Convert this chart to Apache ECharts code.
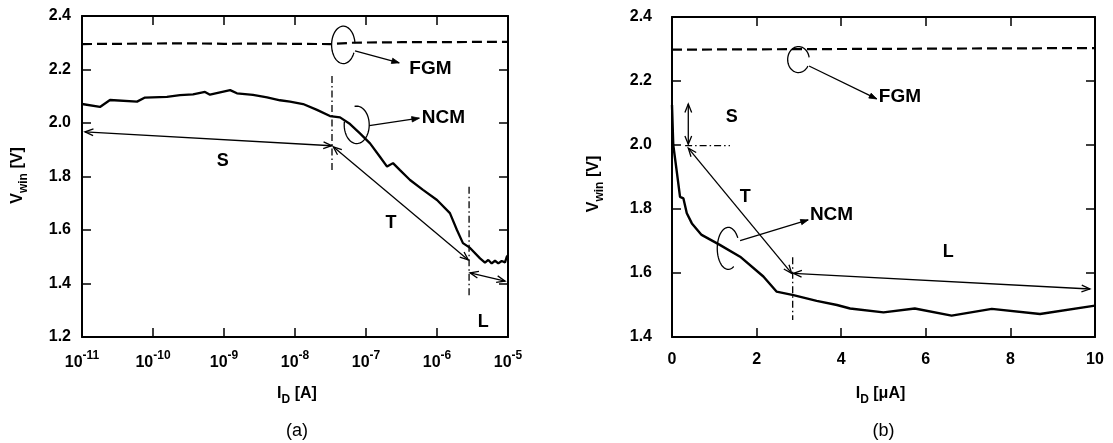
<!DOCTYPE html>
<html>
<head>
<meta charset="utf-8">
<script src="https://cdn.jsdelivr.net/npm/echarts@6/dist/echarts.min.js"></script>
<style>
  html, body { margin: 0; padding: 0; background: #fff; }
  #chart { width: 1113px; height: 443px; }
</style>
</head>
<body>
<div id="chart"></div>
<script>
// ---- (a) window voltage vs. drain current, logarithmic sweep ----
const ncmLogCurrent = [1e-11, 1.79e-11, 2.48e-11, 5.96e-11, 7.71e-11, 1.57e-10, 2.40e-10, 3.66e-10,
  5.40e-10, 6.35e-10, 1.22e-9, 1.52e-9, 2.56e-9, 4.04e-9, 6.15e-9, 8.51e-9, 1.30e-8, 2.04e-8,
  3.11e-8, 4.31e-8, 5.96e-8, 8.22e-8, 1.14e-7, 1.57e-7, 1.98e-7, 2.40e-7, 3.01e-7, 4.17e-7,
  6.35e-7, 1.0e-6, 1.52e-6, 1.91e-6, 2.32e-6, 2.92e-6, 4.04e-6, 4.74e-6, 5.28e-6, 5.89e-6,
  6.56e-6, 7.31e-6, 8.15e-6, 9.08e-6, 9.6e-6, 1e-5];
const ncmLogVwin = [2.071, 2.060, 2.086, 2.080, 2.095, 2.098, 2.104, 2.107,
  2.116, 2.106, 2.123, 2.111, 2.105, 2.096, 2.085, 2.080, 2.071, 2.049,
  2.026, 2.021, 1.996, 1.961, 1.924, 1.874, 1.837, 1.850, 1.824, 1.787,
  1.750, 1.712, 1.663, 1.600, 1.551, 1.533, 1.494, 1.478, 1.488, 1.475,
  1.485, 1.475, 1.484, 1.479, 1.500, 1.505];
const fgmLogCurrent = [1e-11, 3.16e-11, 1e-10, 3.16e-10, 1e-9, 3.16e-9, 1e-8, 3.16e-8,
  6.3e-8, 1e-7, 3.16e-7, 1e-6, 3.16e-6, 1e-5];
const fgmLogVwin = [2.295, 2.296, 2.297, 2.298, 2.296, 2.297, 2.296, 2.295,
  2.300, 2.301, 2.302, 2.302, 2.303, 2.303];

// ---- (b) window voltage vs. drain current, linear sweep [uA] ----
const ncmLinCurrent = [0.0, 0.02, 0.03, 0.11, 0.19, 0.27, 0.35, 0.47, 0.70, 1.13, 1.61, 2.16,
  2.47, 2.87, 3.42, 3.90, 4.21, 5.00, 5.74, 6.61, 7.56, 8.70, 10.0];
const ncmLinVwin = [2.125, 2.040, 2.000, 1.920, 1.838, 1.833, 1.787, 1.755, 1.719, 1.688, 1.651, 1.589,
  1.542, 1.531, 1.513, 1.500, 1.489, 1.477, 1.489, 1.467, 1.488, 1.472, 1.498];
const fgmLinCurrent = [0, 2, 4, 6, 8, 10];
const fgmLinVwin = [2.298, 2.299, 2.300, 2.301, 2.302, 2.303];

// panel captions
const panelCaptions = ['(a)', '(b)'];

const FONT = '"Liberation Sans", Arial, Helvetica, sans-serif';
const INK = '#000';
const BOLD = 'bold';

const GRID_A = { left: 82, top: 16, width: 426, height: 321 };
const GRID_B = { left: 672, top: 17, width: 423, height: 320 };

const zip = (xs, ys) => xs.map((x, i) => [x, ys[i]]);

function frameAxis(extra) {
  return Object.assign({
    axisLine: { show: true, onZero: false, lineStyle: { color: INK, width: 2 } },
    axisTick: { show: true, inside: true, length: 9, lineStyle: { color: INK, width: 1.5 } },
    splitLine: { show: false },
    minorTick: { show: false }
  }, extra);
}

const tickText = { color: INK, fontFamily: FONT, fontSize: 16, fontWeight: BOLD };

const option = {
  animation: false,
  backgroundColor: '#fff',
  grid: [
    Object.assign({ containLabel: false }, GRID_A),
    Object.assign({ containLabel: false }, GRID_B)
  ],
  xAxis: [
    frameAxis({
      gridIndex: 0, type: 'log', logBase: 10, min: 1e-11, max: 1e-5, splitNumber: 6, position: 'bottom',
      axisLabel: {
        margin: 13,
        formatter: v => '{b|10}{s|' + Math.round(Math.log10(v)) + '}',
        rich: {
          b: { color: INK, fontFamily: FONT, fontSize: 16, fontWeight: BOLD, lineHeight: 26 },
          s: { color: INK, fontFamily: FONT, fontSize: 12, fontWeight: BOLD, lineHeight: 13, verticalAlign: 'top' }
        }
      }
    }),
    frameAxis({
      gridIndex: 0, type: 'log', logBase: 10, min: 1e-11, max: 1e-5, splitNumber: 6, position: 'top',
      axisLabel: { show: false }
    }),
    frameAxis({
      gridIndex: 1, type: 'value', min: 0, max: 10, interval: 2, position: 'bottom',
      axisLabel: Object.assign({ margin: 15 }, tickText)
    }),
    frameAxis({
      gridIndex: 1, type: 'value', min: 0, max: 10, interval: 2, position: 'top',
      axisLabel: { show: false }
    })
  ],
  yAxis: [
    frameAxis({
      gridIndex: 0, type: 'value', min: 1.2, max: 2.4, interval: 0.2, position: 'left',
      axisLabel: Object.assign({ margin: 11, formatter: v => v.toFixed(1) }, tickText)
    }),
    frameAxis({
      gridIndex: 0, type: 'value', min: 1.2, max: 2.4, interval: 0.2, position: 'right',
      axisLabel: { show: false }
    }),
    frameAxis({
      gridIndex: 1, type: 'value', min: 1.4, max: 2.4, interval: 0.2, position: 'left',
      axisLabel: Object.assign({ margin: 20, formatter: v => v.toFixed(1) }, tickText)
    }),
    frameAxis({
      gridIndex: 1, type: 'value', min: 1.4, max: 2.4, interval: 0.2, position: 'right',
      axisLabel: { show: false }
    })
  ],
  series: [
    { name: 'NCM', type: 'line', xAxisIndex: 0, yAxisIndex: 0, data: zip(ncmLogCurrent, ncmLogVwin),
      symbol: 'none', silent: true, lineStyle: { color: INK, width: 2.3 } },
    { name: 'FGM', type: 'line', xAxisIndex: 0, yAxisIndex: 0, data: zip(fgmLogCurrent, fgmLogVwin),
      symbol: 'none', silent: true, lineStyle: { color: INK, width: 2.2, type: [10, 5] } },
    { name: 'NCM', type: 'line', xAxisIndex: 2, yAxisIndex: 2, data: zip(ncmLinCurrent, ncmLinVwin),
      symbol: 'none', silent: true, lineStyle: { color: INK, width: 2.4 } },
    { name: 'FGM', type: 'line', xAxisIndex: 2, yAxisIndex: 2, data: zip(fgmLinCurrent, fgmLinVwin),
      symbol: 'none', silent: true, lineStyle: { color: INK, width: 2.2, type: [10, 5] } }
  ]
};

const chart = echarts.init(document.getElementById('chart'), null, { renderer: 'canvas' });
chart.setOption(option);

// ---------- annotation helpers (pixel geometry from data coordinates) ----------
const LW = 1.3;
const deg = d => d * Math.PI / 180;

function ring(c, rx, ry, fromDeg, toDeg) {
  const pts = [];
  const n = 60;
  for (let i = 0; i <= n; i++) {
    const a = deg(fromDeg + (toDeg - fromDeg) * i / n);
    pts.push([c[0] + rx * Math.cos(a), c[1] + ry * Math.sin(a)]);
  }
  return { type: 'polyline', silent: true, shape: { points: pts },
    style: { stroke: INK, lineWidth: LW, fill: null } };
}

function head(tip, from, len, half, filled) {
  const ang = Math.atan2(from[1] - tip[1], from[0] - tip[0]);
  const w1 = [tip[0] + len * Math.cos(ang + half), tip[1] + len * Math.sin(ang + half)];
  const w2 = [tip[0] + len * Math.cos(ang - half), tip[1] + len * Math.sin(ang - half)];
  if (filled) {
    return { type: 'polygon', silent: true, shape: { points: [w1, tip, w2] },
      style: { fill: INK, stroke: INK, lineWidth: 0.8 } };
  }
  return { type: 'polyline', silent: true, shape: { points: [w1, tip, w2] },
    style: { stroke: INK, lineWidth: LW, fill: null } };
}

function segment(p1, p2, dash) {
  return { type: 'line', silent: true,
    shape: { x1: p1[0], y1: p1[1], x2: p2[0], y2: p2[1] },
    style: { stroke: INK, lineWidth: LW, lineDash: dash || null } };
}

// double-headed span arrow with open heads
function span(p1, p2) {
  return [segment(p1, p2), head(p1, p2, 9, deg(22), false), head(p2, p1, 9, deg(22), false)];
}

// pointer from a ring to its caption, with a filled head
function pointer(p1, p2) {
  return [segment(p1, p2), head(p2, p1, 8, deg(20), true)];
}

function dashDot(p1, p2) {
  return segment(p1, p2, [7, 3, 1.5, 3]);
}

function label(text, p, align, size, weight) {
  return { type: 'text', silent: true, x: p[0], y: p[1],
    style: { text: text, fill: INK, fontFamily: FONT, fontSize: size || 19, fontWeight: weight || BOLD,
      align: align || 'center', verticalAlign: 'middle' } };
}

function drawAnnotations() {
  const A = p => chart.convertToPixel({ seriesIndex: 0 }, p);
  const B = p => chart.convertToPixel({ seriesIndex: 2 }, p);
  const g = [];

  // panel (a)
  g.push(ring(A([4.79e-8, 2.292]), 11.7, 18.7, 25, 355));
  g.push(...pointer(A([7.0e-8, 2.270]), A([2.94e-7, 2.225])));
  g.push(label('FGM', A([4.07e-7, 2.204]), 'left'));
  g.push(ring(A([7.4e-8, 1.993]), 12.5, 18.7, -100, 190));
  g.push(...pointer(A([1.11e-7, 1.990]), A([5.64e-7, 2.018])));
  g.push(label('NCM', A([6.1e-7, 2.018]), 'left'));
  g.push(dashDot(A([3.32e-8, 2.176]), A([3.32e-8, 1.814])));
  g.push(...span(A([1.1e-11, 1.967]), A([3.29e-8, 1.915])));
  g.push(label('S', A([9.6e-10, 1.858]), 'center', 18));
  g.push(...span(A([3.46e-8, 1.911]), A([2.76e-6, 1.488])));
  g.push(label('T', A([2.25e-7, 1.625]), 'center', 18));
  g.push(dashDot(A([2.83e-6, 1.762]), A([2.83e-6, 1.345])));
  g.push(...span(A([2.92e-6, 1.440]), A([9.08e-6, 1.409])));
  g.push(label('L', A([4.49e-6, 1.257]), 'center', 18));

  // panel (b)
  g.push(ring(B([2.99, 2.267]), 10.8, 13, 30, 350));
  g.push(...pointer(B([3.24, 2.247]), B([4.84, 2.144])));
  g.push(label('FGM', B([4.89, 2.150]), 'left'));
  g.push(...span(B([0.385, 2.128]), B([0.385, 2.002])));
  g.push(dashDot(B([0.31, 1.998]), B([1.37, 1.998])));
  g.push(label('S', B([1.41, 2.088]), 'center', 18));
  g.push(...span(B([0.385, 1.990]), B([2.83, 1.599])));
  g.push(label('T', B([1.73, 1.838]), 'center', 18));
  g.push(dashDot(B([2.853, 1.649]), B([2.853, 1.453])));
  g.push(...span(B([2.87, 1.599]), B([9.88, 1.550])));
  g.push(label('L', B([6.53, 1.667]), 'center', 18));
  g.push(ring(B([1.33, 1.677]), 11, 21, 60, 330));
  g.push(...pointer(B([1.61, 1.701]), B([3.22, 1.766])));
  g.push(label('NCM', B([3.26, 1.781]), 'left'));

  // axis titles and panel captions
  const sub = {
    m: { fill: INK, fontFamily: FONT, fontSize: 16, fontWeight: BOLD, lineHeight: 24 },
    d: { fill: INK, fontFamily: FONT, fontSize: 12, fontWeight: BOLD, lineHeight: 13, verticalAlign: 'bottom' }
  };
  const titleY = (cx, cy) => ({ type: 'text', silent: true, x: cx, y: cy, rotation: Math.PI / 2,
    style: { text: '{m|V}{d|win}{m| [V]}', rich: sub, align: 'center', verticalAlign: 'middle' } });
  const titleX = (txt, cx, cy) => ({ type: 'text', silent: true, x: cx, y: cy,
    style: { text: txt, rich: sub, align: 'center', verticalAlign: 'middle' } });

  const midA = GRID_A.left + GRID_A.width / 2;
  const midB = GRID_B.left + GRID_B.width / 2;
  const botA = GRID_A.top + GRID_A.height;
  const botB = GRID_B.top + GRID_B.height;

  g.push(titleY(GRID_A.left - 64, GRID_A.top + GRID_A.height / 2 - 1));
  g.push(titleY(GRID_B.left - 78, GRID_B.top + GRID_B.height / 2 + 7));
  g.push(titleX('{m|I}{d|D}{m| [A]}', midA + 2, botA + 57));
  g.push(titleX('{m|I}{d|D}{m| [μA]}', midB - 3, botB + 57));
  g.push(label(panelCaptions[0], [midA + 2, botA + 94], 'center', 18, 'normal'));
  g.push(label(panelCaptions[1], [midB, botB + 94], 'center', 18, 'normal'));

  chart.setOption({ graphic: { elements: g } });
}

drawAnnotations();
</script>
</body>
</html>
